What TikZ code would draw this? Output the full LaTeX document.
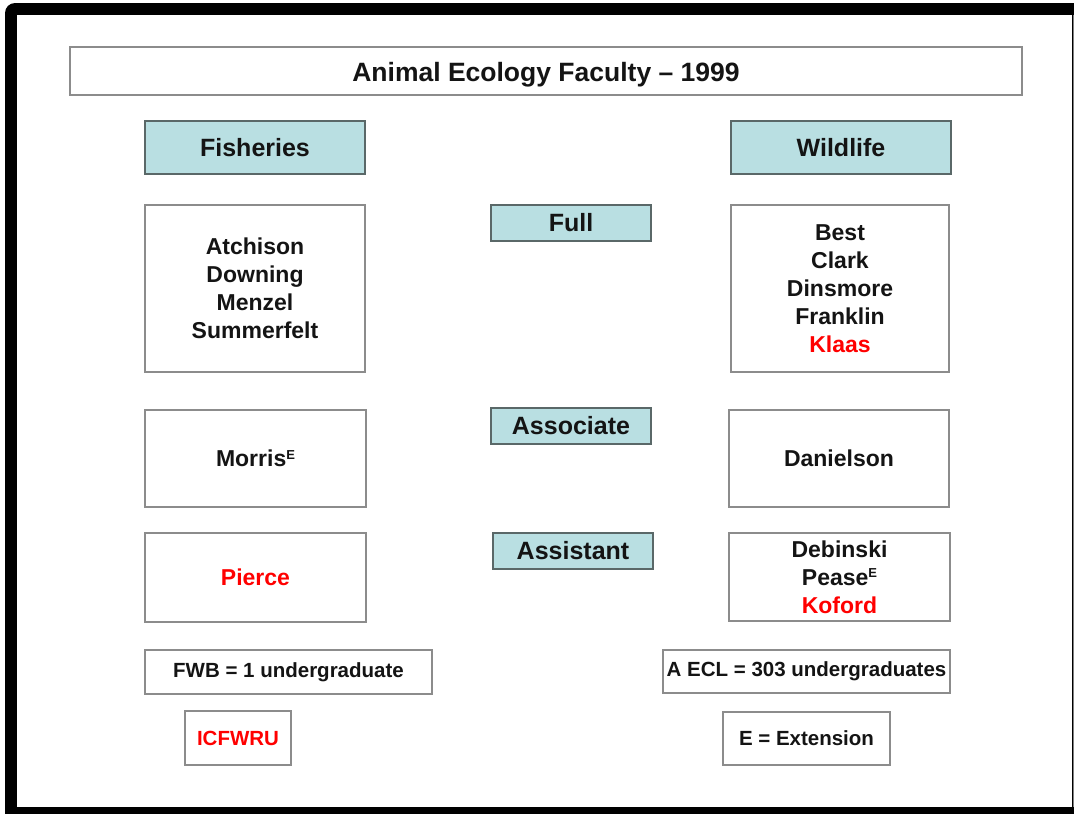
\documentclass[tikz,border=0pt]{standalone}
\usepackage{fontspec}
\setmainfont{Liberation Sans}
\definecolor{headfill}{RGB}{185,223,226}
\definecolor{headline}{RGB}{90,104,104}
\definecolor{boxline}{RGB}{140,140,140}
\definecolor{txt}{RGB}{20,20,20}
\newcommand{\supE}{\raisebox{7.5pt}{\fontsize{13}{13}\selectfont E}}
\begin{document}
\begin{tikzpicture}[x=1pt,y=-1pt,
  box/.style={draw=boxline,line width=1.6pt,fill=white,rectangle,inner sep=1pt,align=center,text=txt,font=\bfseries\fontsize{23}{28}\selectfont},
  head/.style={draw=headline,line width=1.6pt,fill=headfill,rectangle,inner sep=1pt,align=center,text=txt,font=\bfseries\fontsize{25}{30}\selectfont},
  note/.style={draw=boxline,line width=1.6pt,fill=white,rectangle,inner sep=1pt,align=center,text=txt,font=\bfseries\fontsize{20.5}{24}\selectfont}]
\useasboundingbox (0,0) rectangle (1074,814);
% slide frame
\fill[black,rounded corners=10pt] (5,3) rectangle (1110,840);
\fill[white] (17,15) rectangle (1072,807);
\draw[gray,line width=1pt] (1073,15) -- (1073,807);
% title
\node[box,font=\bfseries\fontsize{26.5}{30}\selectfont,text height=24pt,text depth=4pt,minimum width=952pt,minimum height=48pt] (title) at (546,71) {Animal Ecology Faculty -- 1999};
% column headers
\node[head,minimum width=220pt,minimum height=53pt] (fish) at (255,147.5) {Fisheries};
\node[head,minimum width=220pt,minimum height=53pt] (wild) at (841,147.5) {Wildlife};
% rank headers
\node[head,minimum width=160pt,minimum height=36pt] (full) at (571,223) {Full};
\node[head,minimum width=160pt,minimum height=36pt] (assoc) at (571,426) {Associate};
\node[head,minimum width=160pt,minimum height=36pt] (asst) at (573,551) {Assistant};
% fisheries
\node[box,minimum width=220pt,minimum height=167pt] (fishfull) at (255,288.5) {Atchison\\Downing\\Menzel\\Summerfelt};
\node[box,minimum width=221pt,minimum height=97pt] (fishassoc) at (255.5,458.5) {Morris\supE};
\node[box,minimum width=221pt,minimum height=89pt,text=red] (fishasst) at (255.5,577.5) {Pierce};
% wildlife
\node[box,minimum width=218pt,minimum height=167pt] (wildfull) at (840,288.5) {Best\\Clark\\Dinsmore\\Franklin\\\textcolor{red}{Klaas}};
\node[box,minimum width=220pt,minimum height=97pt] (wildassoc) at (839,458.5) {Danielson};
\node[box,minimum width=221pt,minimum height=88pt] (wildasst) at (839.5,577) {Debinski\\Pease\supE\\\textcolor{red}{Koford}};
% notes
\node[note,minimum width=287pt,minimum height=44pt] (fwb) at (288.5,672) {FWB = 1 undergraduate};
\node[note,minimum width=287pt,minimum height=43pt] (aecl) at (806.5,671.5) {A ECL = 303 undergraduates};
\node[note,minimum width=106pt,minimum height=54pt,text=red] (icf) at (238,738) {ICFWRU};
\node[note,minimum width=167pt,minimum height=53pt] (ext) at (806.5,738.5) {E = Extension};
\end{tikzpicture}
\end{document}
